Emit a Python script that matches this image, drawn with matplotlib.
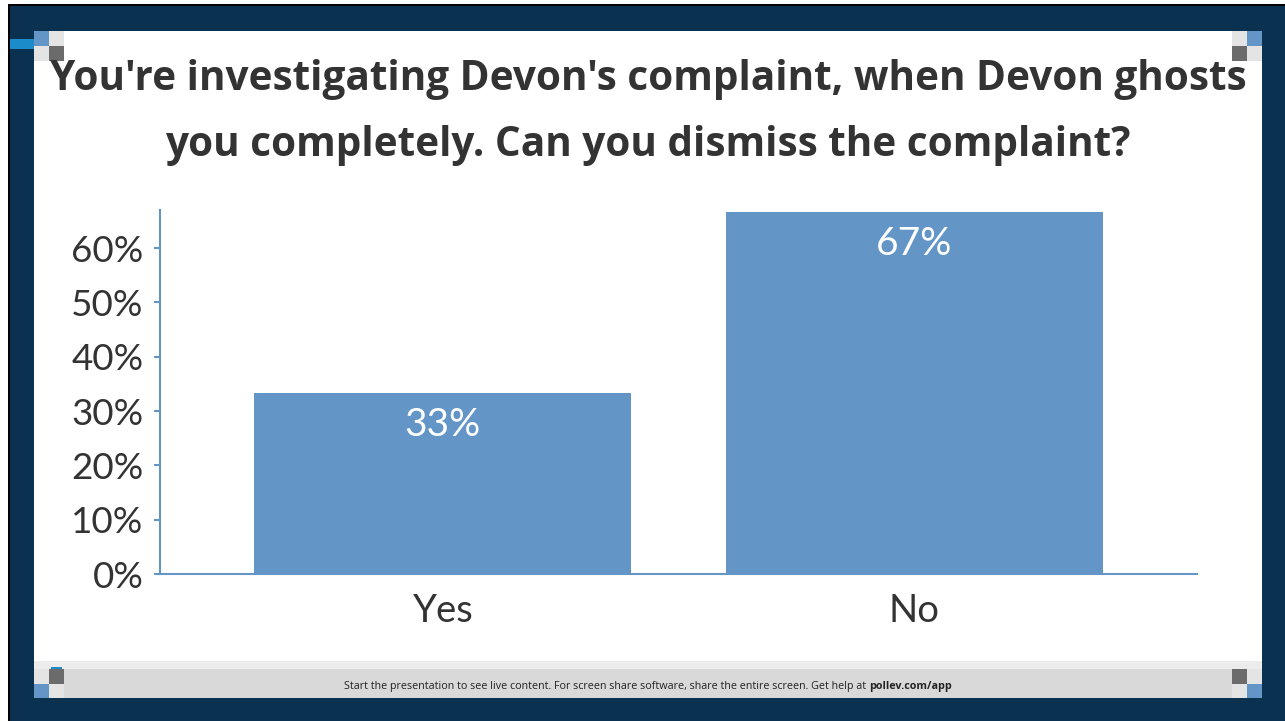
import matplotlib
matplotlib.use("Agg")
import matplotlib.pyplot as plt
from matplotlib.patches import Rectangle
import matplotlib.ticker as mticker

categories = ["Yes", "No"]
values = [33.33, 66.67]
value_labels = ["33%", "67%"]
title_lines = ["You're investigating Devon's complaint, when Devon ghosts",
               "you completely. Can you dismiss the complaint?"]
footer_text = "Start the presentation to see live content. For screen share software, share the entire screen. Get help at "
footer_link = "pollev.com/app"

W, H = 1285, 721
NAVY = "#0a3150"
BLUE = "#6395c7"
LGRAY = "#e4e4e4"
DGRAY = "#6b6b6b"
TXT = "#333333"

fig = plt.figure(figsize=(W / 100, H / 100), dpi=100)
fig.patch.set_facecolor("white")


def rect(x, y, w, h, color, z=0):
    fig.add_artist(Rectangle((x / W, 1 - (y + h) / H), w / W, h / H,
                             transform=fig.transFigure, facecolor=color,
                             edgecolor="none", zorder=z))

# frame
rect(0, 0, W, H, "white", -5)
rect(8, 4, W - 8, H - 4, "#000000", -4)
rect(10, 6, W - 10, H - 6, NAVY, -3)
rect(34, 31, 1228, 667, "white", -2)
# left blue stripe
rect(10, 39, 24, 10, "#1b8bc9", -1)
# footer
rect(34, 661, 1228, 8, "#ececec", -1)
rect(34, 669, 1228, 29, "#d9d9d9", -1)

sq = 15
# top-left squares
rect(34, 31, sq, sq, BLUE)
rect(49, 31, sq, sq, LGRAY)
rect(34, 46, sq, sq, LGRAY)
rect(49, 46, sq, sq, DGRAY)
# top-right squares
rect(1232, 31, sq, sq, LGRAY)
rect(1247, 31, sq, sq, BLUE)
rect(1232, 46, sq, sq, DGRAY)
rect(1247, 46, sq, sq, LGRAY)
# bottom-left squares
rect(34, 669, sq, sq, LGRAY)
rect(49, 669, sq, sq, DGRAY)
rect(34, 684, sq, 14, BLUE)
rect(49, 684, sq, 14, LGRAY)
# bottom-right squares
rect(1232, 669, sq, sq, DGRAY)
rect(1247, 669, sq, sq, LGRAY)
rect(1232, 684, sq, 14, LGRAY)
rect(1247, 684, sq, 14, BLUE)
# small blue arc above bottom-left dark square
rect(51, 667, 11, 2, "#1b8bc9")

# title
fig.text(648 / W, 1 - 80 / H, title_lines[0], ha="center", va="center",
         fontsize=29.2, fontweight="bold", family="Open Sans", color=TXT)
fig.text(648 / W, 1 - 145 / H, title_lines[1], ha="center", va="center",
         fontsize=29.2, fontweight="bold", family="Open Sans", color=TXT)

# footer text
FS = 7.75
ft = fig.text(0, 1 - 686 / H, footer_text, ha="left", va="center",
              fontsize=FS, family="Open Sans", color="#222222")
link = fig.text(0, 1 - 686 / H, footer_link, fontsize=FS, family="Open Sans",
                fontweight="bold", color="#222222", va="center", ha="left")
fig.canvas.draw()
r = fig.canvas.get_renderer()
fw = ft.get_window_extent(renderer=r).width
lw = link.get_window_extent(renderer=r).width
x0 = 648 - (fw + lw) / 2
ft.set_position((x0 / W, 1 - 686 / H))
link.set_position(((x0 + fw) / W, 1 - 686 / H))

# axes
ax_left, ax_right, ax_top, ax_bottom = 160, 1197, 210, 574
ax = fig.add_axes([ax_left / W, 1 - ax_bottom / H, (ax_right - ax_left) / W,
                   (ax_bottom - ax_top) / H])
ax.set_facecolor("none")
x = range(len(categories))
bars = ax.bar(x, values, width=0.8, color=BLUE, zorder=2)
ax.set_xlim(-0.6, 1.6)
ax.set_ylim(0, 67)
ax.set_yticks(range(0, 61, 10))
ax.yaxis.set_major_formatter(mticker.FuncFormatter(lambda v, p: f"{int(v)}%"))
ax.set_xticks(list(x))
ax.set_xticklabels(categories)
for s in ["top", "right"]:
    ax.spines[s].set_visible(False)
for s in ["left", "bottom"]:
    ax.spines[s].set_color(BLUE)
    ax.spines[s].set_linewidth(1.5)
ax.tick_params(axis="y", colors=BLUE, length=4, width=1.5, pad=8,
               labelsize=26.5, labelcolor=TXT)
ax.tick_params(axis="x", length=0, pad=14, labelsize=27.5, labelcolor=TXT)
for lab in ax.get_yticklabels() + ax.get_xticklabels():
    lab.set_family("Lato")

for xi, v, lab in zip(x, values, value_labels):
    ax.annotate(lab, (xi, v), xytext=(0, -23), textcoords="offset points",
                ha="center", va="center", color="white", fontsize=28,
                family="Lato", zorder=3)

fig.savefig("out.png", dpi=100)
